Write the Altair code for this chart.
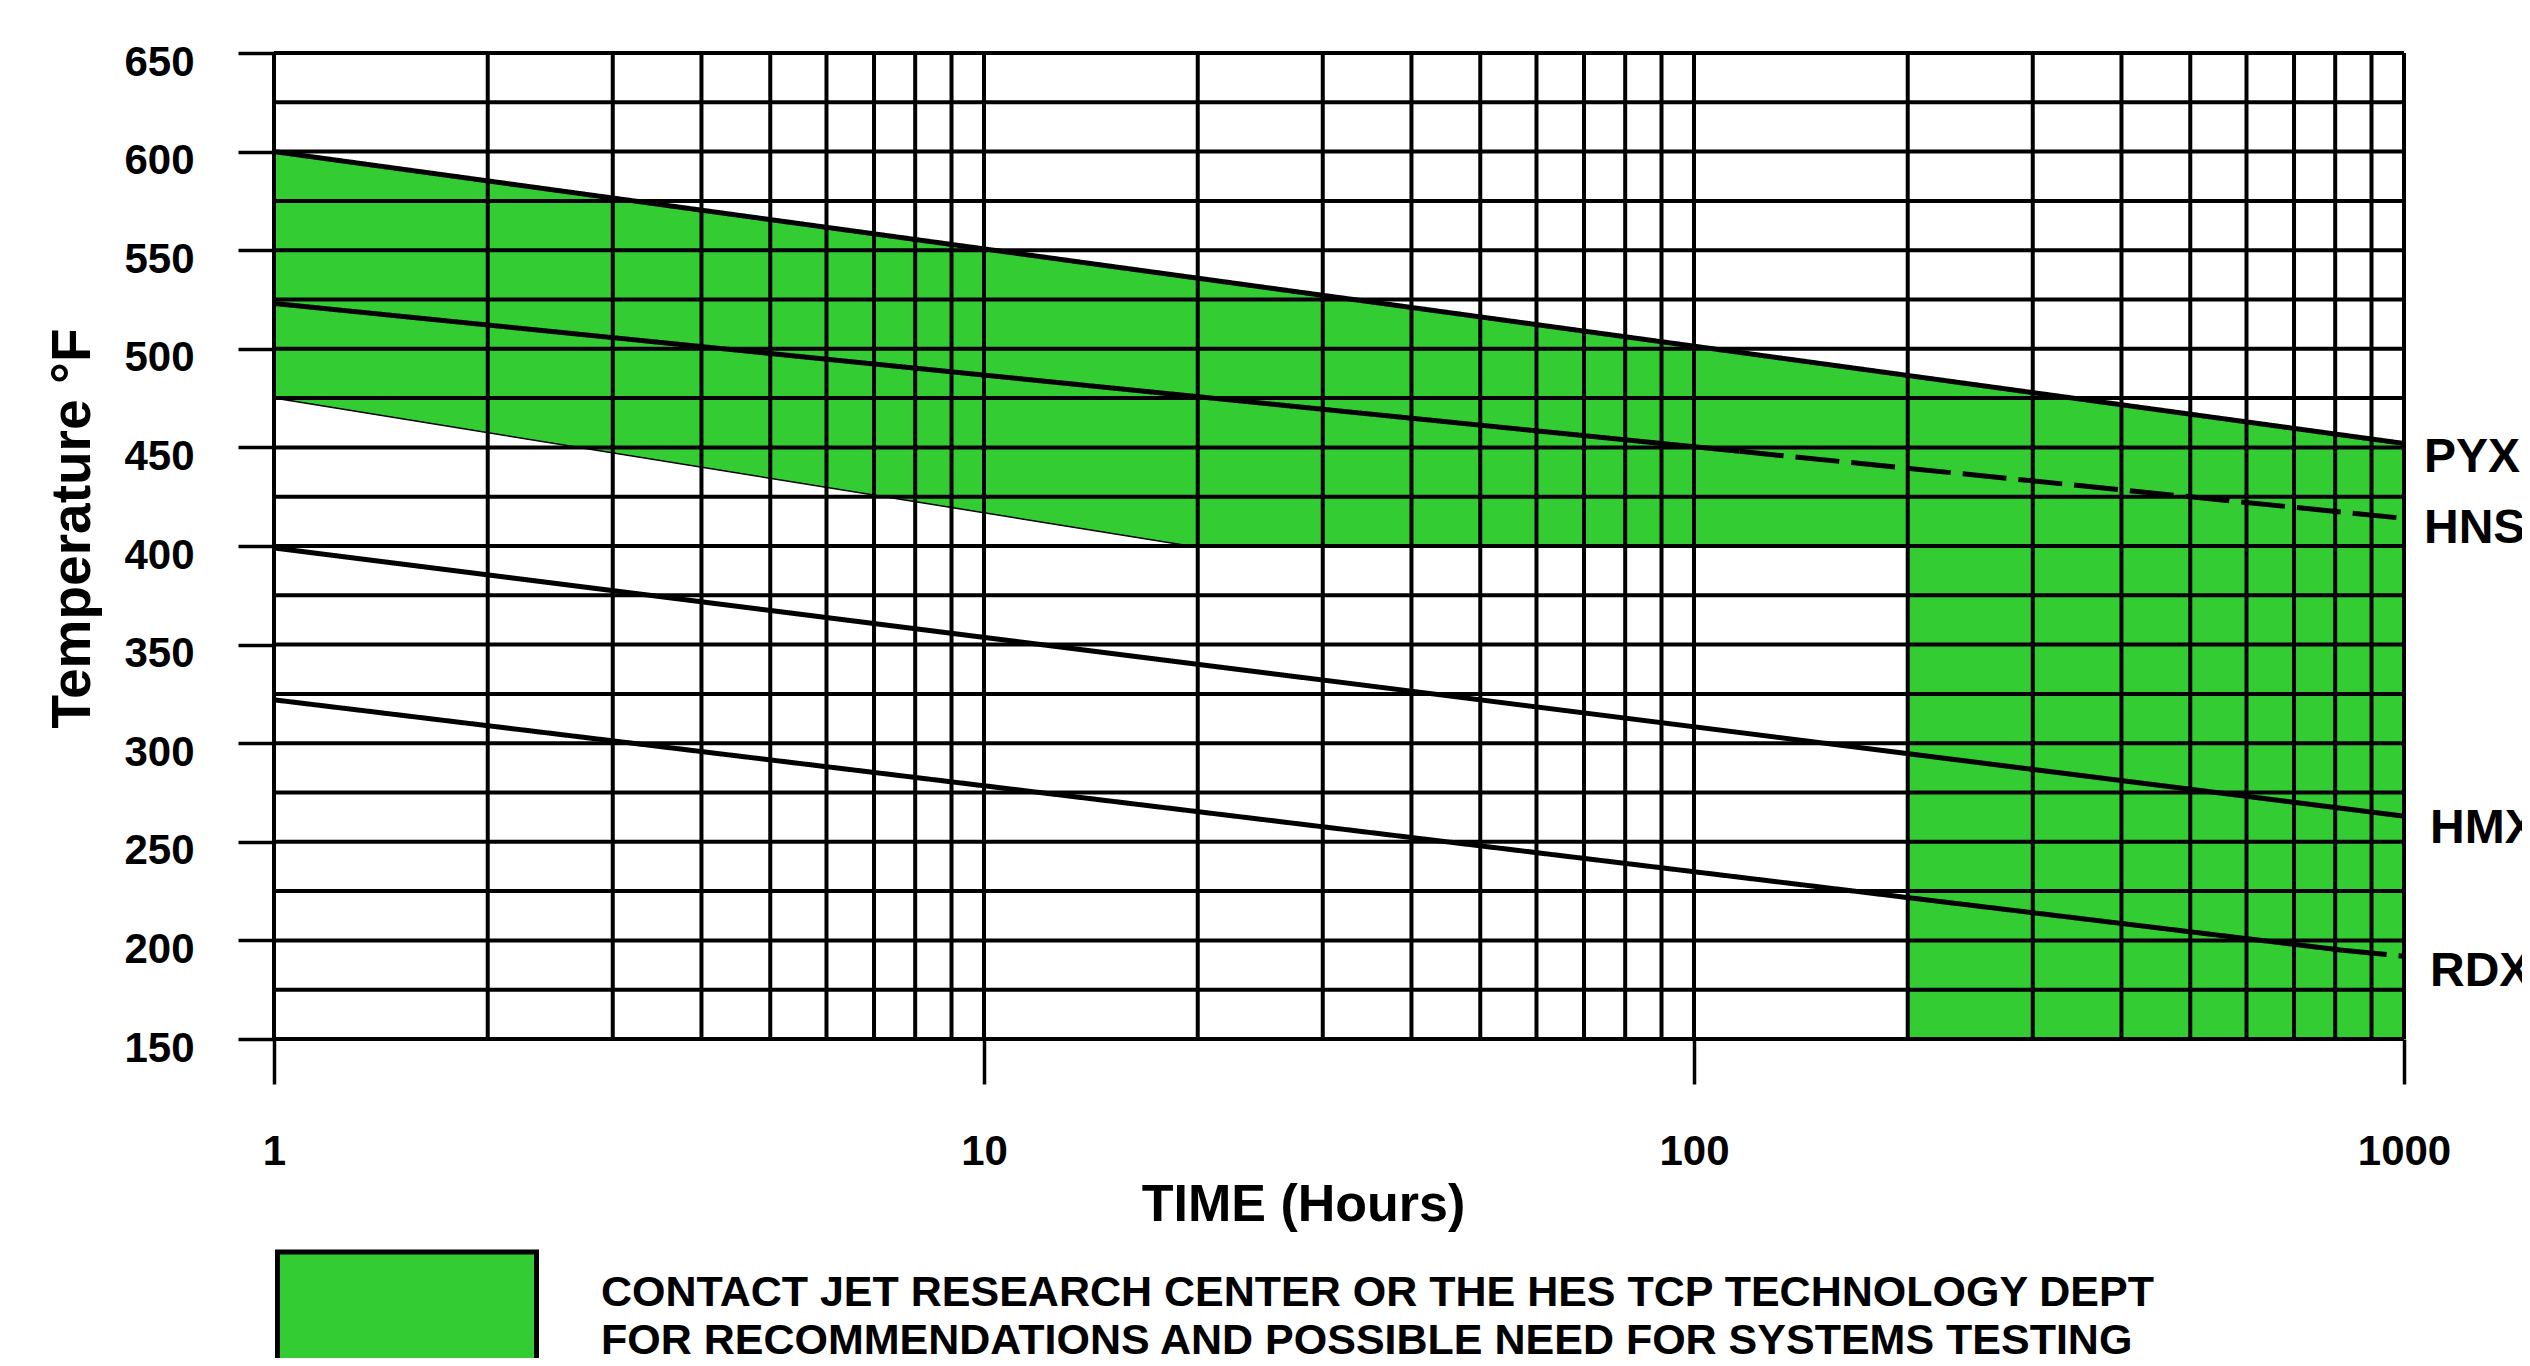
import altair as alt
import pandas as pd

FONT = "Liberation Sans"

# ---- axis / grid values ----
x_grid = [1, 2, 3, 4, 5, 6, 7, 8, 9,
          10, 20, 30, 40, 50, 60, 70, 80, 90,
          100, 200, 300, 400, 500, 600, 700, 800, 900, 1000]
y_grid = [150, 175, 200, 225, 250, 275, 300, 325, 350, 375, 400,
          425, 450, 475, 500, 525, 550, 575, 600, 625, 650]
x_ticks = [1, 10, 100, 1000]
y_ticks = [150, 200, 250, 300, 350, 400, 450, 500, 550, 600, 650]

# ---- series (time in hours, temperature in °F) ----
pyx_t = [1, 1000]
pyx_temp = [600, 452]
hns_solid_t = [1, 116]
hns_solid_temp = [523, 448]
hns_dash_t = [116, 1000]
hns_dash_temp = [448, 414]
hmx_t = [1, 1000]
hmx_temp = [399, 263]
rdx_solid_t = [1, 820]
rdx_solid_temp = [322, 195]
rdx_dash_t = [820, 1000]
rdx_dash_temp = [195, 192]

# ---- green zone (two parts: before and after 200 h) ----
zone_a_t = [1, 19.5, 200]
zone_a_upper = [600, 537, 487]
zone_a_lower = [475, 400, 400]
zone_b_t = [200, 1000]
zone_b_upper = [487, 452]
zone_b_lower = [150, 150]

# ---- right-hand labels ----
label_names_a = ["PYX", "HNS"]
label_temp_a = [444.5, 408.5]
label_names_b = ["HMX", "RDX"]
label_temp_b = [256.5, 184]

note_lines = ["CONTACT JET RESEARCH CENTER OR THE HES TCP TECHNOLOGY DEPT",
              "FOR RECOMMENDATIONS AND POSSIBLE NEED FOR SYSTEMS TESTING"]

# ---- tables ----
segs = []
def add(name, seg, style, ts, temps):
    for t, v in zip(ts, temps):
        segs.append({"series": name, "seg": name + seg, "style": style, "t": t, "temp": v})

add("PYX", "a", "solid", pyx_t, pyx_temp)
add("HNS", "a", "solid", hns_solid_t, hns_solid_temp)
add("HNS", "b", "dashed", hns_dash_t, hns_dash_temp)
add("HMX", "a", "solid", hmx_t, hmx_temp)
add("RDX", "a", "solid", rdx_solid_t, rdx_solid_temp)
add("RDX", "b", "dashed", rdx_dash_t, rdx_dash_temp)
lines_df = pd.DataFrame(segs)

zone_rows = []
for part, ts, ups, lows in [("a", zone_a_t, zone_a_upper, zone_a_lower),
                            ("b", zone_b_t, zone_b_upper, zone_b_lower)]:
    for t, u, l in zip(ts, ups, lows):
        zone_rows.append({"part": part, "t": t, "temp": u, "temp2": l, "zone": "note"})
zone_df = pd.DataFrame(zone_rows)
edge_df = zone_df[zone_df["part"] == "a"]

vgrid_df = pd.DataFrame({"t": x_grid})
hgrid_df = pd.DataFrame({"temp": y_grid})
lab_a = pd.DataFrame({"t": [1000] * len(label_names_a), "temp": label_temp_a, "name": label_names_a})
lab_b = pd.DataFrame({"t": [1000] * len(label_names_b), "temp": label_temp_b, "name": label_names_b})

xs = alt.Scale(type="log", domain=[1, 1000], nice=False)
ys = alt.Scale(domain=[150, 650], nice=False, zero=False)

xaxis = alt.Axis(values=x_ticks, title="TIME (Hours)", grid=False, domain=False,
                 ticks=True, tickSize=45, tickWidth=3.5, tickColor="black",
                 labelExpr="format(datum.value, 'd')",
                 labelFont=FONT, labelFontSize=42, labelFontWeight="bold", labelColor="black",
                 labelBaseline="alphabetic", labelPadding=80, labelFlush=False, labelOverlap=False,
                 titleFont=FONT, titleFontSize=52, titleFontWeight="bold", titleColor="black",
                 titleX=1029, titleY=181, titleBaseline="alphabetic", titleAlign="center")
yaxis = alt.Axis(values=y_ticks, title="Temperature °F", grid=False, domain=False,
                 ticks=True, tickSize=36, tickWidth=3.5, tickColor="black",
                 labelFont=FONT, labelFontSize=42, labelFontWeight="bold", labelColor="black",
                 labelPadding=44, labelOffset=9, labelOverlap=False, labelFlush=False,
                 titleFont=FONT, titleFontSize=55, titleFontWeight="bold", titleColor="black",
                 titleX=-185, titleY=475, titleAngle=270, titleBaseline="alphabetic",
                 titleAlign="center")

X = alt.X("t:Q", scale=xs, axis=xaxis)
Y = alt.Y("temp:Q", scale=ys, axis=yaxis)

legend = alt.Legend(orient="none", legendX=1, legendY=1219, padding=0,
                    title=note_lines, titleOrient="right", titleAnchor="start",
                    titleBaseline="top", titleAlign="left", titlePadding=54,
                    titleFont=FONT, titleFontSize=43, titleFontWeight="bold",
                    titleColor="black", titleLineHeight=48, titleLimit=4000,
                    labelExpr="''", symbolType="M-1,-1.174H1V-0.2H-1Z",
                    symbolSize=67081, symbolStrokeColor="black", symbolStrokeWidth=5,
                    symbolOpacity=1, symbolFillColor="#33cc33")

zone = alt.Chart(zone_df).mark_area(opacity=1, interpolate="linear").encode(
    x=X, y=alt.Y("temp:Q", scale=ys, axis=yaxis, stack=None), y2="temp2:Q",
    detail="part:N",
    fill=alt.Fill("zone:N", scale=alt.Scale(domain=["note"], range=["#33cc33"]), legend=legend),
)
zone_edge = alt.Chart(edge_df).mark_line(color="black", strokeWidth=1.5).encode(
    x=X, y=alt.Y("temp2:Q", scale=ys, axis=yaxis))

vgrid = alt.Chart(vgrid_df).mark_rule(color="black", strokeWidth=4).encode(x=X)
hgrid = alt.Chart(hgrid_df).mark_rule(color="black", strokeWidth=4).encode(y=Y)

series = alt.Chart(lines_df).mark_line(color="black", strokeWidth=5, strokeCap="butt").encode(
    x=X, y=Y, detail="seg:N",
    strokeDash=alt.StrokeDash("style:N", scale=alt.Scale(domain=["solid", "dashed"],
                                                        range=[[1, 0], [44, 12]]), legend=None),
)

labels_a = alt.Chart(lab_a).mark_text(align="left", baseline="middle", dx=20, font=FONT,
                                       fontSize=48, fontWeight="bold", color="black").encode(
    x=X, y=Y, text="name:N")
labels_b = alt.Chart(lab_b).mark_text(align="left", baseline="middle", dx=26, font=FONT,
                                       fontSize=48, fontWeight="bold", color="black").encode(
    x=X, y=Y, text="name:N")

chart = alt.layer(zone, zone_edge, vgrid, hgrid, series, labels_a, labels_b).properties(
    width=2130, height=986,
    autosize=alt.AutoSizeParams(type="none"),
    padding={"left": 266, "top": 45, "right": 118, "bottom": 319},
    background="white",
).configure_view(stroke=None)

chart.save("out.html", embed_options={"renderer": "svg", "actions": False})
